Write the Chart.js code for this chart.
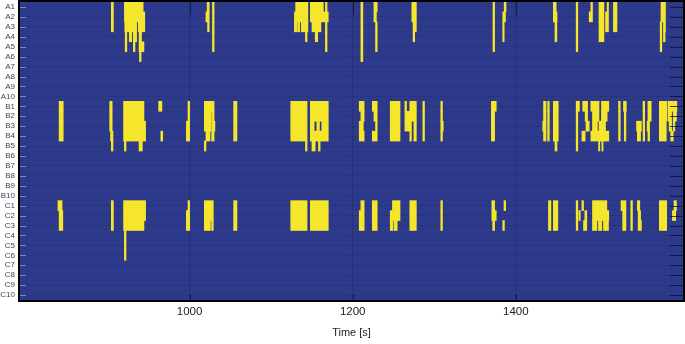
<!DOCTYPE html>
<html>
<head>
<meta charset="utf-8">
<script src="https://cdn.jsdelivr.net/npm/chart.js@4.4.1/dist/chart.umd.min.js"></script>
<style>
html, body { margin: 0; padding: 0; background: #fff; }
#wrap { width: 685px; height: 344px; position: relative; }
</style>
</head>
<body>
<div id="wrap"><canvas id="raster"></canvas></div>
<script>
Chart.defaults.font.family = "'Liberation Sans', Arial, sans-serif";

var rowLabels = ['A1','A2','A3','A4','A5','A6','A7','A8','A9','A10',
                 'B1','B2','B3','B4','B5','B6','B7','B8','B9','B10',
                 'C1','C2','C3','C4','C5','C6','C7','C8','C9','C10'];
var xTicks = [1000, 1200, 1400];
var timeMin = 792, timeMax = 1605;

// active spans [start, end] in seconds, one list per row
var rowsA = [
  [[904,906.5],[920,943],[1021.5,1024],[1028,1030],[1130,1145],[1148,1164],[1166.5,1168.5],[1210,1212.4],[1226,1230],[1272.5,1278],[1372,1374],[1385.7,1388],[1446,1449.5],[1474,1476],[1492,1494],[1502,1508],[1512,1513.6],[1519.7,1524],[1578,1583.5]],
  [[904,906.5],[920,945],[1020,1024],[1028,1030],[1128.5,1145],[1148,1170],[1210,1212.4],[1226,1229],[1272.5,1278],[1372,1374],[1384,1387.3],[1446,1450.5],[1474,1476],[1490,1494],[1502,1508],[1510,1513.6],[1519.7,1524],[1578,1583.5]],
  [[904,906.5],[920.5,935],[937,945],[1022,1024],[1028,1030],[1128.5,1132],[1133,1135],[1137,1145],[1150,1161],[1166.5,1168.5],[1210,1212.4],[1228,1230],[1274,1278],[1372,1374],[1384,1385.7],[1448,1450.3],[1474,1476],[1502,1508],[1510,1513.6],[1519.7,1524],[1577,1579],[1581,1583.5]],
  [[921,923],[926,929],[931,935],[938,941],[1028,1030],[1142,1144],[1154,1157],[1166.5,1168.5],[1210,1212.4],[1228,1230],[1274,1276],[1372,1374],[1384,1385.7],[1448,1450.3],[1474,1476],[1502,1508],[1577,1579],[1581,1583]],
  [[921,923],[931,933],[938,944],[1028,1030],[1166.5,1168.5],[1210,1212.4],[1228,1230],[1372,1374],[1474,1476],[1577,1579]],
  [[938.5,940.5],[1210,1212.4]],
  [], [], [], []
];
var rowsB = [
  [[840,845],[902,905],[919,944],[962,966],[998,1000],[1018,1030],[1054,1058],[1124,1144],[1148,1170],[1208,1214],[1224,1230],[1246,1258],[1264,1266],[1270,1278],[1286,1288],[1308,1310],[1370,1376],[1434,1437],[1439,1441],[1446,1452],[1474,1478],[1482,1488],[1492,1502],[1505,1514],[1526,1528],[1532,1535.5],[1556,1558],[1562,1566],[1576,1585.5],[1587,1597.5]],
  [[840,845],[902,905],[919,944],[998,1000],[1018,1026],[1027,1030],[1054,1058],[1124,1144],[1148,1170],[1210,1214],[1226,1230],[1246,1258],[1264,1278],[1286,1288],[1308,1310],[1370,1374],[1434,1437],[1439,1441],[1446,1452],[1474,1476],[1485,1488],[1494,1502],[1505,1512],[1526,1528],[1533,1535],[1556,1558],[1562,1566],[1576,1585.5],[1587,1591],[1593,1597]],
  [[840,845],[902,905],[919,946],[996,1000],[1018,1026],[1027,1031],[1054,1058],[1124,1144],[1148,1152.7],[1156,1159.2],[1162,1170],[1208,1213],[1228,1230],[1246,1258],[1264,1272],[1275,1278],[1286,1288],[1308,1311],[1370,1374],[1433,1437],[1439,1441],[1446,1452],[1474,1476],[1486,1490],[1494,1500],[1502,1510],[1526,1528],[1533,1535],[1548,1554],[1556,1558],[1561,1564],[1576,1584.5],[1588,1591],[1593,1595]],
  [[840,845],[903,906],[919,946],[964.7,967],[996,1000],[1020,1025],[1027,1030],[1054,1058],[1124,1144],[1148,1170],[1208,1214],[1224,1230],[1246,1258],[1270,1272],[1275,1278],[1286,1288],[1308,1310],[1370,1374],[1434,1437],[1439,1441],[1446,1452],[1474,1476],[1481,1485],[1492,1514],[1526,1528],[1533,1535],[1549,1553],[1556,1558],[1562,1564],[1576,1584.5],[1590,1593]],
  [[904,906],[920,922],[938,942],[1018,1020],[1142,1144],[1150,1154],[1158,1160],[1448,1450.5],[1474,1476],[1501.5,1503],[1505.5,1507]],
  [], [], [], [], []
];
var rowsC = [
  [[838.5,843.6],[904,906.5],[919,946],[998,1000],[1018,1029],[1054,1058],[1124,1144],[1148,1170],[1210,1214],[1224,1230],[1248.7,1258],[1270,1278],[1308,1310],[1370.6,1374],[1385.5,1387.5],[1440,1443],[1446,1451.5],[1474,1476],[1481,1483],[1494,1511.6],[1529,1535],[1541,1543],[1549,1552],[1576,1585],[1594,1597]],
  [[840,844.5],[904,906.5],[919,946],[996,1000],[1018,1029],[1054,1058],[1124,1144],[1148,1170],[1208,1214],[1224,1230],[1246,1258],[1270,1278],[1308,1310],[1370.6,1376],[1440,1443],[1446,1451.5],[1474,1476],[1477.3,1479],[1484.6,1487],[1494,1514],[1531,1535],[1541,1543],[1550,1553],[1576,1585],[1592,1596]],
  [[840,844.5],[904,906.5],[919,944],[996,1000],[1018,1025.5],[1027,1029],[1054,1058],[1124,1144],[1148,1170],[1208,1214],[1224,1230],[1246,1249],[1250.5,1254.5],[1270,1278],[1308,1310],[1371.6,1374],[1384,1386],[1440,1443],[1446,1451.5],[1474,1476],[1483,1487],[1494,1499.4],[1501.3,1505.4],[1507.5,1513.6],[1531,1535],[1541,1543],[1550,1554],[1576,1585]],
  [[920,922]],
  [[920,922]],
  [[920,922]],
  [], [], [], []
];

var spans = [];
rowsA.concat(rowsB, rowsC).forEach(function (row, i) {
  row.forEach(function (s) { spans.push({ y: rowLabels[i], x: s }); });
});

// blue field behind the bars, inward tick marks and the black frame on top
var frame = {
  id: 'frame',
  beforeDraw: function (chart) {
    var a = chart.chartArea, ctx = chart.ctx;
    ctx.save();
    ctx.fillStyle = '#2d3a8b';
    ctx.fillRect(a.left, a.top, a.right - a.left, a.bottom - a.top);
    ctx.restore();
  },
  afterDraw: function (chart) {
    var a = chart.chartArea, ctx = chart.ctx;
    var ys = chart.scales.y, xs = chart.scales.x;
    ctx.save();
    ctx.lineWidth = 1;
    ys.ticks.forEach(function (t, i) {
      var py = Math.round(ys.getPixelForTick(i)) + 0.5;
      ctx.strokeStyle = 'rgba(215,220,240,0.5)';
      ctx.beginPath(); ctx.moveTo(a.left, py); ctx.lineTo(a.left + 6, py); ctx.stroke();
      ctx.strokeStyle = 'rgba(15,20,45,0.8)';
      ctx.beginPath(); ctx.moveTo(a.right - 13, py); ctx.lineTo(a.right, py); ctx.stroke();
    });
    ctx.strokeStyle = 'rgba(15,20,45,0.8)';
    xTicks.forEach(function (v) {
      var px = Math.round(xs.getPixelForValue(v)) + 0.5;
      ctx.beginPath(); ctx.moveTo(px, a.top); ctx.lineTo(px, a.top + 13); ctx.stroke();
      ctx.beginPath(); ctx.moveTo(px, a.bottom); ctx.lineTo(px, a.bottom - 6); ctx.stroke();
    });
    ctx.strokeStyle = '#000';
    ctx.lineWidth = 2;
    ctx.strokeRect(a.left - 1, a.top - 1, a.right - a.left + 2, a.bottom - a.top + 2);
    ctx.restore();
  }
};

new Chart(document.getElementById('raster'), {
  type: 'bar',
  data: {
    labels: rowLabels,
    datasets: [{
      data: spans,
      backgroundColor: '#f6e62b',
      borderWidth: 0,
      barPercentage: 1,
      categoryPercentage: 1
    }]
  },
  options: {
    indexAxis: 'y',
    responsive: true,
    maintainAspectRatio: false,
    animation: false,
    layout: { padding: { top: 2, right: 2, left: 0, bottom: 0 } },
    plugins: { legend: { display: false }, tooltip: { enabled: false } },
    scales: {
      x: {
        type: 'linear',
        min: timeMin,
        max: timeMax,
        afterBuildTicks: function (s) { s.ticks = xTicks.map(function (v) { return { value: v }; }); },
        afterFit: function (s) { s.height = 44; s.paddingLeft = 0; s.paddingRight = 0; },
        grid: { color: 'rgba(0,0,0,0.14)', drawTicks: false },
        border: { display: false },
        ticks: {
          padding: 5, color: '#222', maxRotation: 0,
          font: { size: 11.5 },
          callback: function (v) { return String(v); }
        },
        title: {
          display: true, text: 'Time [s]', color: '#222',
          font: { size: 11 }, padding: { top: 6, bottom: 4 }
        }
      },
      y: {
        type: 'category',
        afterFit: function (s) { s.width = 20; s.paddingTop = 0; s.paddingBottom = 0; },
        grid: { offset: false, color: 'rgba(0,0,0,0.1)', drawTicks: false },
        border: { display: false },
        ticks: { padding: 5, autoSkip: false, color: '#3d4755', font: { size: 8 } }
      }
    }
  },
  plugins: [frame]
});
</script>
</body>
</html>
